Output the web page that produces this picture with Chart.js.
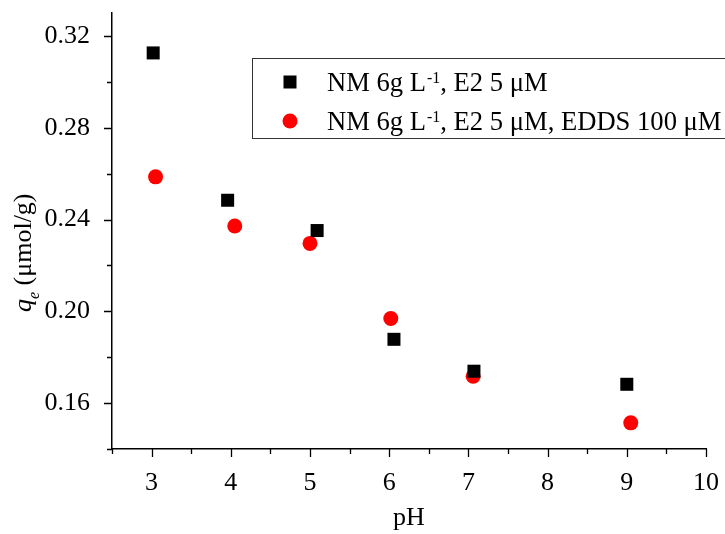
<!DOCTYPE html>
<html>
<head>
<meta charset="utf-8">
<script src="https://cdn.jsdelivr.net/npm/chart.js@4.4.0/dist/chart.umd.min.js"></script>
<style>
  html, body { margin: 0; padding: 0; background: #fff; }
  #wrap { width: 725px; height: 534px; }
</style>
</head>
<body>
<div id="wrap"><canvas id="chart"></canvas></div>
<script>
// data
const phE2 = [3.02, 3.96, 5.09, 6.06, 7.07, 9.0];
const qeE2 = [0.3126, 0.2484, 0.2352, 0.1878, 0.1739, 0.1682];
const phEdds = [3.05, 4.05, 5.0, 6.02, 7.06, 9.05];
const qeEdds = [0.2586, 0.2372, 0.2296, 0.1969, 0.1717, 0.1514];

// legend text split as [before, superscript, after]
const seriesLabels = [
  ['NM 6g L', '-1', ', E2 5 \u03bcM'],
  ['NM 6g L', '-1', ', E2 5 \u03bcM, EDDS 100 \u03bcM']
];

const xTicks = [3, 4, 5, 6, 7, 8, 9, 10];
const xMinor = [2.5, 3.5, 4.5, 5.5, 6.5, 7.5, 8.5, 9.5];
const yTicks = [0.16, 0.20, 0.24, 0.28, 0.32];
const yMinor = [0.14, 0.18, 0.22, 0.26, 0.30];

const FONT = '"Liberation Serif", "Times New Roman", serif';

function toPoints(xs, ys) {
  return xs.map((x, i) => ({ x: x, y: ys[i] }));
}

// tick marks (major + minor), y title with sub-script, legend box
const extras = {
  id: 'extras',
  afterDraw(chart) {
    const ctx = chart.ctx;
    const xs = chart.scales.x, ys = chart.scales.y;
    const area = chart.chartArea;
    ctx.save();
    ctx.strokeStyle = '#000';
    ctx.lineWidth = 1.3;
    ctx.beginPath();
    xTicks.forEach(v => {
      const px = Math.round(xs.getPixelForValue(v)) + 0.5;
      ctx.moveTo(px, area.bottom); ctx.lineTo(px, area.bottom + 8);
    });
    xMinor.forEach(v => {
      const px = Math.round(xs.getPixelForValue(v)) + 0.5;
      ctx.moveTo(px, area.bottom); ctx.lineTo(px, area.bottom + 5);
    });
    yTicks.forEach(v => {
      const py = Math.round(ys.getPixelForValue(v)) + 0.5;
      ctx.moveTo(area.left, py); ctx.lineTo(area.left - 8, py);
    });
    yMinor.forEach(v => {
      const py = Math.round(ys.getPixelForValue(v)) + 0.5;
      ctx.moveTo(area.left, py); ctx.lineTo(area.left - 5, py);
    });
    ctx.stroke();

    // y axis title: q_e (µmol/g)
    ctx.save();
    ctx.translate(31, 312);
    ctx.rotate(-Math.PI / 2);
    ctx.fillStyle = '#000';
    ctx.textBaseline = 'alphabetic';
    ctx.textAlign = 'left';
    ctx.font = 'italic 26px ' + FONT;
    ctx.fillText('q', 0, 0);
    let w = ctx.measureText('q').width;
    ctx.font = 'italic 16px ' + FONT;
    ctx.fillText('e', w, 8);
    w += ctx.measureText('e').width;
    ctx.font = '26px ' + FONT;
    ctx.fillText(' (\u03bcmol/g)', w, 0);
    ctx.restore();

    // legend
    ctx.lineWidth = 1;
    ctx.strokeStyle = '#333';
    ctx.strokeRect(252.5, 58.5, 520, 80);
    const rows = [82, 121];
    const baselines = [91, 130];
    chart.data.datasets.forEach((ds, i) => {
      ctx.fillStyle = ds.backgroundColor;
      if (ds.pointStyle === 'rect') {
        ctx.fillRect(290 - 6.5, rows[i] - 6.5, 13, 13);
      } else {
        ctx.beginPath();
        ctx.arc(290, rows[i], 7.5, 0, Math.PI * 2);
        ctx.fill();
      }
      const parts = seriesLabels[i];
      ctx.fillStyle = '#000';
      ctx.textBaseline = 'alphabetic';
      ctx.textAlign = 'left';
      let x = 327;
      ctx.font = '26.6px ' + FONT;
      ctx.fillText(parts[0], x, baselines[i]);
      x += ctx.measureText(parts[0]).width + 1;
      ctx.font = '16px ' + FONT;
      ctx.fillText(parts[1], x, baselines[i] - 8.5);
      x += ctx.measureText(parts[1]).width;
      ctx.font = '26.6px ' + FONT;
      ctx.fillText(parts[2], x, baselines[i]);
    });
    ctx.restore();
  }
};

new Chart(document.getElementById('chart'), {
  type: 'scatter',
  data: {
    datasets: [
      {
        label: seriesLabels[0].join(''),
        data: toPoints(phE2, qeE2),
        pointStyle: 'rect',
        pointRadius: 9.2,
        pointHoverRadius: 9.2,
        backgroundColor: '#000000',
        borderColor: '#000000',
        borderWidth: 0
      },
      {
        label: seriesLabels[1].join(''),
        data: toPoints(phEdds, qeEdds),
        pointStyle: 'circle',
        pointRadius: 7.5,
        pointHoverRadius: 7.5,
        backgroundColor: '#ff0000',
        borderColor: '#ff0000',
        borderWidth: 0
      }
    ]
  },
  options: {
    responsive: true,
    maintainAspectRatio: false,
    animation: false,
    layout: { padding: { top: 13, right: 19, left: 0, bottom: 0 } },
    plugins: {
      legend: { display: false },
      tooltip: { enabled: false }
    },
    scales: {
      x: {
        type: 'linear',
        min: 2.5,
        max: 10,
        afterBuildTicks: s => { s.ticks = xTicks.map(v => ({ value: v })); },
        afterFit: s => { s.height = 85; s.paddingLeft = 0; s.paddingRight = 0; },
        grid: { display: false },
        border: { display: true, color: '#000', width: 1.5 },
        ticks: {
          color: '#000',
          padding: 11,
          maxRotation: 0,
          font: { family: FONT, size: 26 }
        },
        title: {
          display: true,
          text: 'pH',
          color: '#000',
          padding: { top: 0, bottom: 0 },
          font: { family: FONT, size: 26 }
        }
      },
      y: {
        type: 'linear',
        min: 0.14,
        max: 0.33,
        afterBuildTicks: s => { s.ticks = yTicks.map(v => ({ value: v })); },
        afterFit: s => { s.width = 112; s.paddingTop = 0; s.paddingBottom = 0; },
        grid: { display: false },
        border: { display: true, color: '#000', width: 1.5 },
        ticks: {
          color: '#000',
          padding: 14,
          font: { family: FONT, size: 26 },
          callback: v => v.toFixed(2)
        }
      }
    }
  },
  plugins: [extras]
});
</script>
</body>
</html>
